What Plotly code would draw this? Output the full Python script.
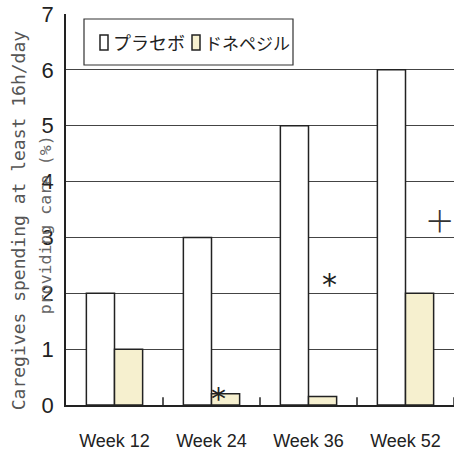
import plotly.graph_objects as go

weeks = ["Week 12", "Week 24", "Week 36", "Week 52"]
placebo = [2, 3, 5, 6]
donepezil = [1, 0.2, 0.15, 2]
series_names = ["プラセボ", "ドネペジル"]
series_fill = ["white", "#f6f0cf"]
y_ticks = [0, 1, 2, 3, 4, 5, 6, 7]

# significance marks: (category index, offset within group, y value, symbol)
marks = [(1, 0.07, 0.12, "*"), (2, 0.22, 2.15, "*"), (3, 0.35, 3.33, "+")]

narrow = "Liberation Sans Narrow, Arial Narrow, sans-serif"
jp = "Noto Sans CJK JP"
edge = "#222"

fig = go.Figure()
fig.add_trace(go.Bar(
    x=weeks, y=placebo, name=series_names[0],
    marker=dict(color=series_fill[0], line=dict(color=edge, width=1.5)),
))
fig.add_trace(go.Bar(
    x=weeks, y=donepezil, name=series_names[1],
    marker=dict(color=series_fill[1], line=dict(color=edge, width=1.5)),
))

for idx, dx, yv, sym in marks:
    if sym == "*":
        font = dict(size=30, color=edge, family="DejaVu Sans")
    else:
        font = dict(size=48, color="#333", family="Noto Sans", weight=200)
    fig.add_annotation(x=idx + dx, y=yv, xref="x", yref="y", text=sym,
                       showarrow=False, font=font)

# short inward tick marks on the category boundaries
for i in range(len(weeks)):
    fig.add_shape(type="line", xref="x", yref="y domain",
                  x0=i + 0.5, x1=i + 0.5, y0=0, y1=0.02,
                  line=dict(color=edge, width=1.5))

# axis title, two lines
fig.add_annotation(
    x=0, y=0.47, xref="paper", yref="paper", xanchor="center", yanchor="middle",
    xshift=-48, text="Caregives spending at least 16h/day", textangle=-90,
    showarrow=False, font=dict(size=18, family="DejaVu Sans Mono", color="#555"),
)
fig.add_annotation(
    x=0, y=0.46, xref="paper", yref="paper", xanchor="center", yanchor="middle",
    xshift=-21, text="providing care (%)", textangle=-90, showarrow=False,
    font=dict(size=16.5, family="DejaVu Sans Mono", color="#666"),
)

# legend box with swatches
def px_x(v):
    return (v - 66) / 388

def px_y(v):
    return (405 - v) / 391

fig.add_shape(type="rect", xref="paper", yref="paper",
              x0=px_x(84), x1=px_x(293), y0=px_y(65), y1=px_y(19),
              line=dict(color="#333", width=1.2), fillcolor="white", layer="above")
swatch_left = [100, 192]
text_left = [111, 203]
text_size = [18, 17]
for i, name in enumerate(series_names):
    fig.add_shape(type="rect", xref="paper", yref="paper",
                  x0=px_x(swatch_left[i]), x1=px_x(swatch_left[i] + 8),
                  y0=px_y(50), y1=px_y(35),
                  line=dict(color=edge, width=1.5), fillcolor=series_fill[i], layer="above")
    fig.add_annotation(
        x=px_x(text_left[i]), y=px_y(42), xref="paper", yref="paper",
        xanchor="left", yanchor="middle", text=name, showarrow=False,
        font=dict(family=jp, size=text_size[i], color=edge),
    )

fig.update_layout(
    width=454, height=456,
    margin=dict(l=66, r=0, t=14, b=51),
    plot_bgcolor="white", paper_bgcolor="white",
    barmode="group", bargap=0.42, bargroupgap=0,
    showlegend=False,
    xaxis=dict(
        range=[-0.5, 3.5], showgrid=False, showline=True, linecolor=edge, linewidth=1.5,
        ticks="", tickfont=dict(family=narrow, size=18, color=edge), ticklabelstandoff=19,
    ),
    yaxis=dict(
        range=[0, 7], tickvals=y_ticks, showgrid=True, gridcolor="#444", gridwidth=1,
        showline=True, linecolor=edge, linewidth=1.5, ticks="", zeroline=False,
        tickfont=dict(family=narrow, size=22, color=edge), ticklabelstandoff=6,
    ),
)

fig.write_html("out.html")
